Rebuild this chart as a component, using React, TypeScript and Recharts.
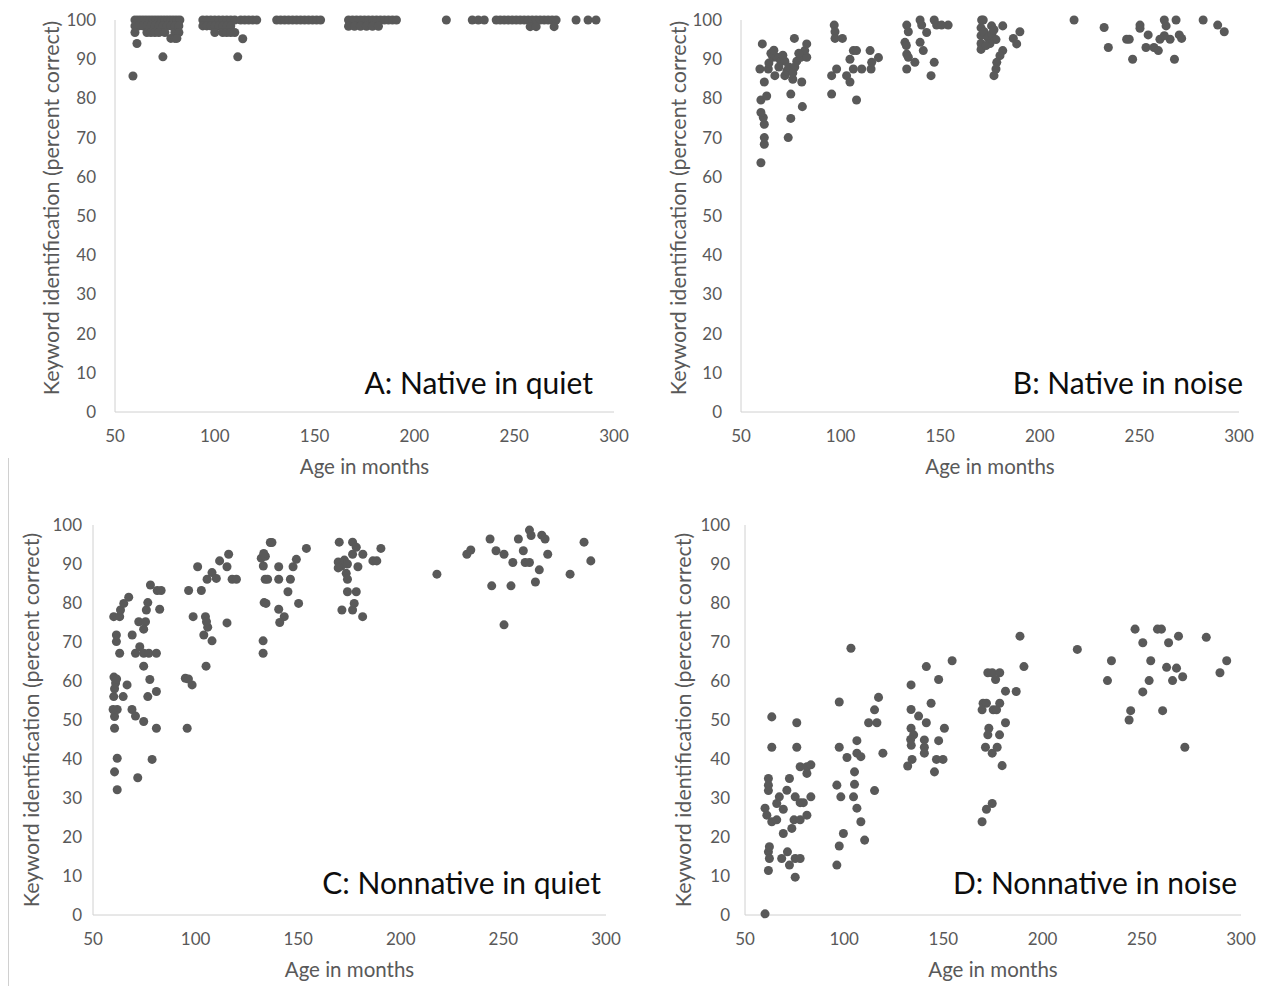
import React from 'react';
import { ScatterChart, Scatter, XAxis, YAxis, ZAxis } from 'recharts';

type Pt = [number, number];

const ageTicks = [50, 100, 150, 200, 250, 300];
const scoreTicks = [0, 10, 20, 30, 40, 50, 60, 70, 80, 90, 100];

const xTitle = 'Age in months';
const yTitle = 'Keyword identification (percent correct)';
const panelTitles = ['A: Native in quiet', 'B: Native in noise', 'C: Nonnative in quiet', 'D: Nonnative in noise'];

// A: Native in quiet  [age in months, percent correct]
const nativeQuiet: Pt[] = [
  [60, 100], [61.5, 100], [63, 100], [64.5, 100], [66, 100], [67.5, 100], [69, 100], [70.5, 100], [72, 100], [73.5, 100],
  [75, 100], [76.5, 100], [78, 100], [79.5, 100], [81, 100], [82.5, 100],
  [60, 98.5], [62, 98.5], [64, 98.5], [66, 98.5], [68, 98.5], [70, 98.5], [72, 98.5], [74, 98.5], [76, 98.5], [78, 98.5],
  [80, 98.5], [82, 98.5],
  [60, 96.8], [66, 96.8], [68, 96.8], [70, 96.8], [72, 96.8], [75, 96.8], [80, 96.8], [82, 96.8],
  [78, 95.3], [80, 95.3], [81, 95.3], [61, 94], [74, 90.6], [59, 85.7],
  [94, 100], [96, 100], [98, 100], [100, 100], [102, 100], [104, 100], [106, 100], [108, 100], [110, 100], [113, 100],
  [115, 100], [117, 100], [119, 100], [121, 100],
  [94, 98.5], [96, 98.5], [98, 98.5], [100, 98.5], [102, 98.5], [104, 98.5], [106, 98.5], [108, 98.5],
  [100, 96.8], [104, 96.8], [106, 96.8], [108, 96.8], [110, 96.8], [114, 95.2], [111.5, 90.6],
  [131, 100], [133, 100], [135, 100], [137, 100], [139, 100], [141, 100], [143, 100], [145, 100], [147, 100], [149, 100],
  [151, 100], [153, 100],
  [167, 100], [169, 100], [171, 100], [173, 100], [175, 100], [177, 100], [179, 100], [181, 100], [183, 100], [185, 100],
  [187, 100], [189, 100], [191, 100],
  [167, 98.4], [170, 98.4], [173, 98.4], [176, 98.4], [179, 98.4], [182, 98.4],
  [216, 100], [229, 100], [232, 100], [235, 100],
  [241, 100], [243, 100], [245, 100], [247, 100], [249, 100], [251, 100], [253, 100], [255, 100], [257, 100], [259, 100],
  [261, 100], [263, 100], [265, 100], [267, 100], [269, 100], [271, 100],
  [258, 98.3], [261, 98.3], [270, 98.3], [281, 100], [287, 100], [291, 100],
];

// B: Native in noise
const nativeNoise: Pt[] = [
  [60, 63.6], [61.7, 68.3], [61.7, 70], [73.7, 70], [61.7, 73.4], [61.2, 75.1], [60, 76.4], [75, 74.9], [80.8, 77.9], [60, 79.6],
  [62.9, 80.6], [75, 81.1], [61.7, 84.2], [80.5, 84.2], [67, 85.8], [72, 85.8], [76, 84.9], [59.5, 87.5], [63.7, 87.5], [73, 87],
  [64, 89], [66, 90.5], [68, 90.5], [70, 89.5], [65, 91.5], [66.5, 92.3], [72, 89.5], [74, 88], [78, 89.5], [80, 90.5],
  [83, 90.5], [82, 92.2], [76.8, 95.3], [60.7, 93.9], [83, 93.9], [77, 88], [76, 86.5], [79, 91.5], [69, 88], [71, 91],
  [96.8, 98.7], [97.2, 97], [97.2, 95.3], [100.9, 95.3], [95.5, 85.8], [98, 87.5], [95.5, 81.1], [104.7, 90], [106.4, 92.2], [108, 92.2],
  [103, 85.8], [104.7, 84.2], [106.4, 87.5], [110.6, 87.5], [115.3, 87.5], [108, 79.6], [114.8, 92.2], [119, 90.4], [115.6, 89.2],
  [133.2, 98.7], [134, 97], [139.9, 100], [140.7, 98.7], [143.2, 96.8], [147, 100], [148.2, 98.7], [154, 98.7], [150.7, 98.7],
  [132.3, 94.3], [133, 93.5], [139.9, 94.3], [141.5, 92.2], [133.2, 91.3], [134, 90.5], [137.3, 89.2], [147, 89.2], [133.2, 87.5],
  [145.4, 85.8],
  [170.8, 100], [171.6, 100], [175.8, 98.5], [181.4, 98.5], [170.5, 98], [170.5, 96], [170.5, 94], [170.5, 92.5], [172, 97], [174, 95.5],
  [176, 96.5], [178, 95], [175, 94], [177, 97.5], [173, 93.5], [186.7, 95.3], [188.4, 93.9], [190, 97], [181.4, 92.2], [180, 90.9],
  [178.4, 89.2], [178, 87.5], [177, 85.8],
  [217.2, 100], [232.3, 98.1], [234.4, 93], [250.3, 98.7], [250.3, 97.9], [243.6, 95.1], [244.9, 95.1], [254.4, 96.2], [253.3, 93], [246.6, 90],
  [257.3, 93], [259.5, 92.2], [262.5, 100], [268.4, 100], [263.4, 98.5], [260.3, 95.1], [265.4, 95.1], [262.5, 96], [270, 96.2], [271.2, 95.3],
  [267.6, 90], [282, 100], [289.3, 98.7], [292.6, 97],
];

// C: Nonnative in quiet
const nonnativeQuiet: Pt[] = [
  [61.8, 32.1], [60.5, 36.7], [61.8, 40.2], [71.8, 35.2], [78.8, 39.9], [60.5, 47.9], [80.9, 47.9], [60.5, 50.9], [61.8, 52.7], [59.8, 52.7],
  [69, 52.7], [70.7, 51], [74.7, 49.6], [60.1, 56], [64.7, 56], [66.6, 59], [60.5, 58], [61, 59.5], [60.2, 61], [61.5, 60.5],
  [76.7, 56], [80.9, 57.3], [77.7, 60.4], [74.7, 63.8], [63, 67.1], [70.7, 67.1], [72.8, 68.8], [74.7, 67.1], [77.2, 67.1], [80.9, 67.1],
  [61.4, 70.1], [61.4, 71.8], [69.1, 71.8], [72.3, 75.2], [75.6, 75.2], [74.7, 73.3], [60.1, 76.5], [63, 76.5], [63.4, 78.2], [65, 79.9],
  [67.4, 81.5], [76, 78.2], [76.7, 80.1], [82.5, 78.4], [78, 84.6], [81.3, 83.2], [83.2, 83.2],
  [95.9, 47.9], [95, 60.7], [98.3, 59], [96.5, 60.5], [105.1, 63.8], [104, 71.8], [105.9, 73.8], [108, 70.3], [98.8, 76.5], [104.8, 76.5],
  [105.3, 75.2], [115.3, 74.9], [96.6, 83.2], [102.8, 83.2], [101, 89.3], [105.6, 86.1], [108, 87.8], [110.1, 86.3], [111.7, 90.8], [115.3, 89.3],
  [116.1, 92.5], [117.8, 86.1], [119.9, 86.1],
  [132.9, 67.1], [132.9, 70.3], [133.4, 80.1], [133.9, 86.1], [132, 91.5], [133, 89.5], [134, 92], [136.4, 95.5], [137.2, 95.5], [133.2, 92.7],
  [135.1, 86.1], [140.5, 86.1], [146.2, 86.1], [140.5, 89.3], [147.5, 89.3], [149.1, 91.2], [154, 94], [145, 82.9], [134.3, 79.9], [140.5, 78.4],
  [143.2, 76.5], [141, 75], [150.2, 79.9],
  [170, 95.6], [176.5, 95.6], [178.3, 94.3], [190.3, 94], [176.5, 92.5], [181.5, 92.5], [169.5, 90.5], [171, 89.5], [172.5, 91], [174, 90],
  [169.5, 89], [179.1, 89.3], [186.4, 90.8], [188.3, 90.8], [173.4, 87.6], [174, 86.1], [174, 82.9], [178.3, 82.9], [177.3, 79.9], [176.5, 78.2],
  [171.3, 78.2], [181.4, 76.5],
  [217.6, 87.4], [232.2, 92.5], [234.1, 93.6], [243.5, 96.4], [246.4, 93.4], [250.3, 92.5], [257.3, 96.4], [262.7, 98.7], [263.5, 97.3], [268.7, 97.4],
  [270.3, 96.4], [259.7, 93.4], [254.6, 90.4], [260.6, 90.4], [262.7, 90.4], [271.6, 92.5], [267.5, 88.5], [244.3, 84.4], [253.7, 84.4], [265.6, 85.4],
  [250.3, 74.4], [289.3, 95.6], [292.6, 90.8], [282.5, 87.4],
];

// D: Nonnative in noise
const nonnativeNoise: Pt[] = [
  [60.1, 0.3], [61.8, 11.4], [75.3, 9.7], [61.8, 16.2], [62.3, 14.5], [62.3, 17.5], [68.5, 14.5], [72.4, 12.8], [71.4, 16.2], [75.3, 14.5],
  [77.8, 14.5], [69.3, 20.9], [73.6, 22.2], [74.7, 24.4], [77.8, 24.4], [81.2, 25.6], [60.1, 27.4], [61, 25.6], [63.5, 23.9], [66, 24.4],
  [66, 28.6], [67.3, 30.3], [69.3, 27.1], [71.1, 32], [75.3, 30.3], [77.8, 28.8], [79.4, 28.8], [83.2, 30.3], [72.4, 35], [61.8, 35],
  [61.8, 33.3], [61.8, 31.9], [77.8, 38], [81.2, 38], [83.2, 38.5], [81.2, 36.3], [63.5, 43], [76.1, 43], [63.5, 50.8], [76.1, 49.3],
  [103.4, 68.4], [97.5, 54.6], [97.5, 43], [96.3, 33.3], [98.3, 30.3], [99.6, 20.9], [97.5, 17.7], [96.3, 12.8], [101.4, 40.4], [106.4, 44.7],
  [106.4, 41.5], [108.4, 40.6], [105.2, 36.7], [105.2, 33.5], [104.7, 30.3], [106.4, 27.4], [108.4, 23.9], [110.3, 19.2], [112.3, 49.3], [116.5, 49.3],
  [115.3, 52.6], [117.3, 55.8], [119.5, 41.5], [115.3, 31.9],
  [133.7, 59], [141.4, 63.7], [147.6, 60.4], [154.4, 65.2], [143.8, 54.3], [133.7, 52.7], [137.5, 51], [141.4, 49.3], [150.5, 47.9], [133.7, 47.9],
  [135, 46.2], [133.5, 45], [133.8, 43.5], [140.4, 44.9], [140.4, 43], [140.4, 41.5], [147.6, 44.7], [146.5, 39.9], [149.8, 39.9], [132, 38.2],
  [134.2, 39.9], [145.5, 36.7],
  [188.6, 71.5], [190.6, 63.7], [172.4, 62.1], [174.6, 62.1], [178.4, 62.1], [176.3, 60.4], [181.3, 57.4], [186.7, 57.3], [170, 54.3], [171.7, 54.3],
  [178.4, 54.3], [169.5, 52.6], [175.1, 52.6], [176.8, 52.6], [181.3, 49.3], [172.9, 47.9], [172.4, 46.2], [178.3, 46.2], [171.2, 43], [174.6, 41.5],
  [177.1, 43], [179.6, 38.3], [174.6, 28.6], [171.7, 27.1], [169.5, 23.9],
  [217.5, 68.1], [234.7, 65.2], [232.7, 60.1], [246.6, 73.3], [250.5, 69.8], [257.9, 73.3], [259.9, 73.3], [263.5, 69.8], [268.5, 71.5], [254.5, 65.2],
  [262.5, 63.5], [267.5, 63.3], [253.7, 60.1], [265.5, 60.1], [270.6, 61.1], [250.5, 57.2], [244.4, 52.4], [243.6, 50], [260.5, 52.4], [271.7, 43],
  [282.5, 71.2], [292.8, 65.2], [289.4, 62.1],
];

const FONT = 'Lato, "Open Sans", sans-serif';
const GREY = '#595959';
const AXIS = '#d0d0d0';

type PanelProps = {
  data: Pt[];
  left: number;
  top: number;
  height: number;
  margin: { top: number; right: number; bottom: number; left: number };
  yAxisWidth: number;
  yTickMargin: number;
  yTitleOffset: number;
  yTitleDy: number;
};

function Panel({ data, left, top, height, margin, yAxisWidth, yTickMargin, yTitleOffset, yTitleDy }: PanelProps) {
  const rows = data.map(([age, score]) => ({ age, score }));
  return (
    <div style={{ position: 'absolute', left, top }}>
      <ScatterChart width={633} height={height} margin={margin}>
        <XAxis
          type="number"
          dataKey="age"
          domain={[50, 300]}
          ticks={ageTicks}
          interval={0}
          tickLine={false}
          axisLine={{ stroke: AXIS }}
          tick={{ fill: GREY, fontSize: 17, fontFamily: FONT }}
          tickMargin={12}
          height={62}
          label={{ value: xTitle, position: 'insideBottom', offset: 0, fill: GREY, fontSize: 20.5, fontFamily: FONT }}
        />
        <YAxis
          type="number"
          dataKey="score"
          domain={[0, 100]}
          ticks={scoreTicks}
          interval={0}
          tickLine={false}
          axisLine={{ stroke: AXIS }}
          tick={{ fill: GREY, fontSize: 17, fontFamily: FONT }}
          tickMargin={yTickMargin}
          width={yAxisWidth}
          label={{
            value: yTitle,
            angle: -90,
            position: 'insideLeft',
            offset: yTitleOffset,
            dy: yTitleDy,
            fill: GREY,
            fontSize: 21.5,
            fontFamily: FONT,
            style: { textAnchor: 'middle' },
          }}
        />
        <ZAxis range={[64, 64]} />
        <Scatter data={rows} fill={GREY} isAnimationActive={false} />
      </ScatterChart>
    </div>
  );
}

export default function App() {
  return (
    <div style={{ position: 'absolute', left: 0, top: 0, width: 1266, height: 986, background: '#fff', fontFamily: FONT }}>
      <Panel data={nativeQuiet} left={0} top={0} height={490}
        margin={{ top: 20, right: 19, bottom: 16, left: 0 }} yAxisWidth={115} yTickMargin={13} yTitleOffset={51} yTitleDy={-8} />
      <Panel data={nativeNoise} left={633} top={0} height={490}
        margin={{ top: 20, right: 27, bottom: 16, left: 0 }} yAxisWidth={108} yTickMargin={13} yTitleOffset={45} yTitleDy={-8} />
      <Panel data={nonnativeQuiet} left={0} top={490} height={496}
        margin={{ top: 35, right: 27, bottom: 9, left: 0 }} yAxisWidth={93} yTickMargin={5} yTitleOffset={31} yTitleDy={0} />
      <Panel data={nonnativeNoise} left={633} top={490} height={496}
        margin={{ top: 35, right: 25, bottom: 9, left: 0 }} yAxisWidth={112} yTickMargin={9} yTitleOffset={50} yTitleDy={0} />
      <svg width={1266} height={986} style={{ position: 'absolute', left: 0, top: 0, pointerEvents: 'none' }}>
        <line x1={8.5} y1={458} x2={8.5} y2={986} stroke={AXIS} strokeWidth={1} />
        <text x={593} y={394} textAnchor="end" fontSize={30} fill="#0d0d0d" fontFamily={FONT}>{panelTitles[0]}</text>
        <text x={1243} y={394} textAnchor="end" fontSize={30} fill="#0d0d0d" fontFamily={FONT}>{panelTitles[1]}</text>
        <text x={601} y={894} textAnchor="end" fontSize={30} fill="#0d0d0d" fontFamily={FONT}>{panelTitles[2]}</text>
        <text x={1237} y={894} textAnchor="end" fontSize={30} fill="#0d0d0d" fontFamily={FONT}>{panelTitles[3]}</text>
      </svg>
    </div>
  );
}
